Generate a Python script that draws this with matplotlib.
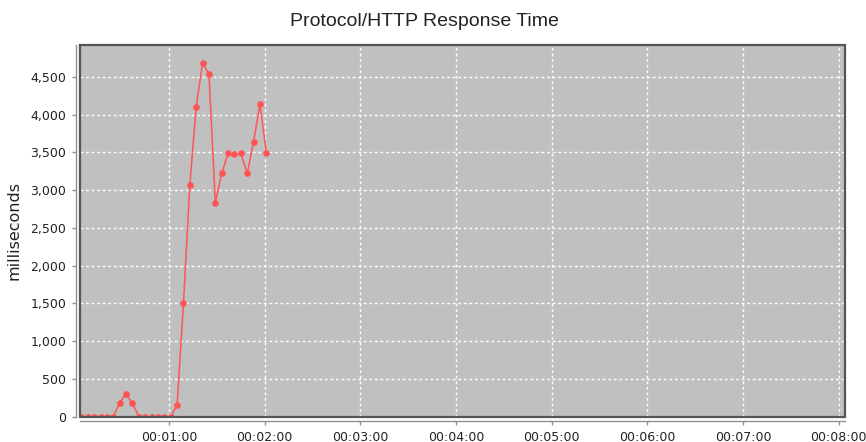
import matplotlib.pyplot as plt
from matplotlib.patches import Rectangle
from matplotlib.ticker import FuncFormatter, MultipleLocator

# elapsed time (seconds) and response time (ms)
times = [5, 9, 13, 17, 21, 25, 29, 33, 37, 41, 45, 49, 53, 57, 61,
         65, 69, 73, 77, 81, 85, 89, 93, 97, 101, 105, 109, 113, 117, 121]
response_ms = [0, 0, 0, 0, 0, 0, 185, 300, 177, 0, 0, 0, 0, 0, 0,
               155, 1500, 3066, 4103, 4685, 4531, 2832, 3221, 3486, 3473,
               3486, 3221, 3640, 4138, 3486]

title = "Protocol/HTTP Response Time"
y_label = "milliseconds"


def hms(sec, pos=None):
    sec = int(round(sec))
    return f"{sec // 3600:02d}:{(sec % 3600) // 60:02d}:{sec % 60:02d}"


fig = plt.figure(figsize=(8.66, 4.42), dpi=100)
ax = fig.add_axes([80 / 866, 1 - 416.7 / 442, 765 / 866, 371.7 / 442])

ax.set_facecolor("#c0c0c0")
ax.plot(times, response_ms, color="#ff5555", lw=1.1, marker="o",
        markersize=3.8, zorder=3)

ax.set_xlim(4.1, 484)
ax.set_ylim(0, 4920)
ax.xaxis.set_major_locator(MultipleLocator(60))
ax.yaxis.set_major_locator(MultipleLocator(500))
ax.xaxis.set_major_formatter(FuncFormatter(hms))
ax.yaxis.set_major_formatter(FuncFormatter(lambda v, p: f"{int(v):,}"))

ax.grid(True, color="white", lw=1, linestyle=(0, (2, 2)), zorder=1)

# axis lines sit a little outside the plot area, like the original
for side in ["top", "right"]:
    ax.spines[side].set_visible(False)
for side in ["left", "bottom"]:
    ax.spines[side].set_position(("outward", 3))
    ax.spines[side].set_color("#909090")
    ax.spines[side].set_linewidth(1)
ax.add_patch(Rectangle((0, 0), 1, 1, transform=ax.transAxes, fill=False,
                       ec="#555555", lw=1.6, zorder=5, clip_on=False))

ax.tick_params(axis="both", length=3, width=1, color="#909090",
               labelsize=9, labelcolor="#222222", pad=4)

ax.set_ylabel(y_label, fontsize=11.5, color="#222222", labelpad=6)
fig.text(424 / 866, 1 - 21 / 442, title, ha="center", va="center",
         fontsize=14, family="Liberation Sans", color="#222222")

fig.savefig("out.png", dpi=100)
